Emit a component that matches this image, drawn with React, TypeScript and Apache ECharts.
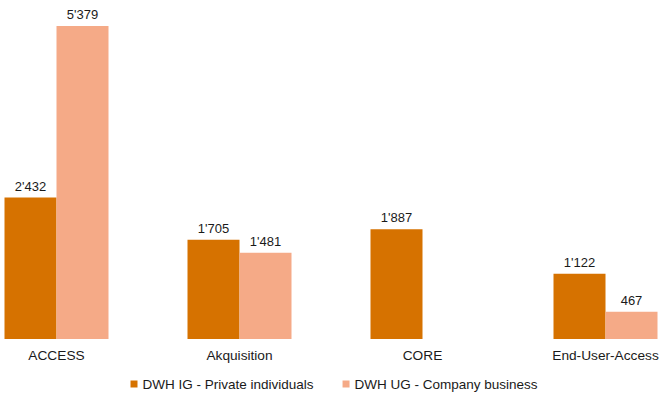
import React, { useEffect, useRef } from "react";
import * as echarts from "echarts";

const categories = ["ACCESS", "Akquisition", "CORE", "End-User-Access"];
const seriesNames = ["DWH IG - Private individuals", "DWH UG - Company business"];
const privateValues: (number | null)[] = [2432, 1705, 1887, 1122];
const companyValues: (number | null)[] = [5379, 1481, null, 467];

const fmt = (v: number) => String(v).replace(/\B(?=(\d{3})+(?!\d))/g, "'");

const SHIFT = 35.5;

export default function App() {
  const ref = useRef<HTMLDivElement>(null);
  useEffect(() => {
    const chart = echarts.init(ref.current!, null, { renderer: "svg" });
    const font = "Liberation Sans, Arial, sans-serif";
    const label = {
      show: true,
      position: "top" as const,
      distance: 5,
      color: "#1a1a1a",
      fontSize: 13,
      fontFamily: font,
      formatter: (p: any) => fmt(p.value),
    };
    chart.setOption({
      animation: false,
      grid: { left: 0, right: 0, top: 19, bottom: 55 },
      legend: {
        top: 372,
        left: 125 + SHIFT,
        itemWidth: 7,
        itemHeight: 7,
        itemGap: 29,
        icon: "rect",
        textStyle: { fontSize: 13.5, fontFamily: font, color: "#1a1a1a" },
        data: seriesNames,
      },
      xAxis: {
        type: "category",
        data: categories,
        axisLine: { show: false },
        axisTick: { show: false },
        axisLabel: { fontSize: 13.7, fontFamily: font, color: "#1a1a1a", margin: 9 },
      },
      yAxis: {
        type: "value",
        min: 0,
        max: 5500,
        show: false,
        splitLine: { show: false },
      },
      series: [
        {
          name: seriesNames[0],
          type: "bar",
          data: privateValues,
          barWidth: 52,
          barGap: "0%",
          itemStyle: { color: "#D67200" },
          label,
        },
        {
          name: seriesNames[1],
          type: "bar",
          data: companyValues,
          barWidth: 52,
          barGap: "0%",
          itemStyle: { color: "#F5AA87" },
          label,
        },
      ],
    });
    return () => chart.dispose();
  }, []);
  return (
    <div style={{ width: 663, height: 394, position: "absolute", left: 0, top: 0, overflow: "hidden" }}>
      <div ref={ref} style={{ width: 732, height: 394, position: "absolute", left: -SHIFT, top: 0 }} />
    </div>
  );
}
